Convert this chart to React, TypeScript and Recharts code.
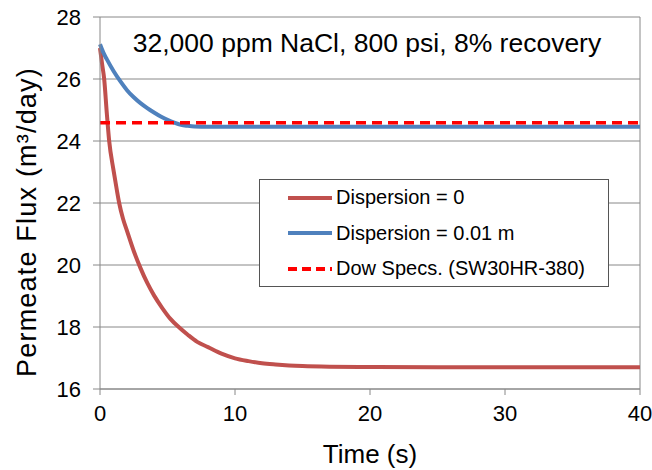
import { LineChart, Line, XAxis, YAxis, CartesianGrid, ReferenceLine } from 'recharts';

// time (s) and permeate flux (m³/day)
const redTime = [0, 0.15, 0.31, 0.5, 0.68, 1.0, 1.25, 1.42, 1.7, 2.0, 2.5, 3.0, 3.5, 4.0, 4.6, 5.2, 5.85, 6.5, 7.2, 8.0, 9.0, 10.0, 11.0, 12.0, 13.0, 14.0, 15.0, 17.0, 20.0, 25.0, 30.0, 40.0];
const redFlux = [27.0, 26.5, 26.0, 24.92, 24.0, 23.06, 22.41, 22.0, 21.5, 21.1, 20.45, 19.9, 19.42, 19.02, 18.62, 18.27, 17.99, 17.75, 17.52, 17.35, 17.14, 16.99, 16.9, 16.83, 16.79, 16.76, 16.74, 16.72, 16.71, 16.7, 16.7, 16.7];

const blueTime = [0, 0.25, 0.5, 1.0, 1.5, 2.0, 2.5, 3.0, 3.5, 4.0, 4.5, 5.0, 5.5, 6.0, 6.5, 7.0, 8.0, 10.0, 20.0, 40.0];
const blueFlux = [27.12, 26.85, 26.64, 26.26, 25.93, 25.64, 25.41, 25.22, 25.06, 24.92, 24.79, 24.68, 24.59, 24.52, 24.49, 24.47, 24.46, 24.46, 24.46, 24.46];

const specTime = [0, 40];
const specFlux = [24.59, 24.59];

const xTicks = [0, 10, 20, 30, 40];
const yTicks = [16, 18, 20, 22, 24, 26, 28];

const toPoints = (ts: number[], ys: number[]) => ts.map((t, i) => ({ t, flux: ys[i] }));

const legendItems = [
  { label: 'Dispersion = 0', color: '#C0504D', dash: undefined },
  { label: 'Dispersion = 0.01 m', color: '#4F81BD', dash: undefined },
  { label: 'Dow Specs. (SW30HR-380)', color: '#FF0000', dash: '9 5' },
];

const font = '"Liberation Sans", Arial, sans-serif';

function YLabel() {
  return (
    <text
      transform="translate(27,222) rotate(-90)"
      textAnchor="middle"
      dominantBaseline="central"
      fill="#000"
      style={{ fontSize: 27, fontFamily: font, letterSpacing: 1.2 }}
    >
      Permeate Flux (m³/day)
    </text>
  );
}

function LegendBox() {
  return (
    <div
      style={{
        position: 'absolute',
        left: 259,
        top: 179,
        width: 350,
        height: 108,
        border: '1.5px solid #555',
        background: '#fff',
        fontFamily: font,
        fontSize: 20,
        color: '#000',
        boxSizing: 'border-box',
      }}
    >
      {legendItems.map((it) => (
        <div key={it.label} style={{ display: 'flex', alignItems: 'center', height: 35.5 }}>
          <svg width={76} height={10} style={{ flex: 'none' }}>
            <line x1={28} y1={5} x2={72} y2={5} stroke={it.color} strokeWidth={4} strokeDasharray={it.dash} />
          </svg>
          <span>{it.label}</span>
        </div>
      ))}
    </div>
  );
}

export default function App() {
  return (
    <div style={{ position: 'absolute', left: 0, top: 0, width: 652, height: 470, background: '#fff' }}>
      <LineChart width={652} height={470} margin={{ top: 17, right: 12, bottom: 0, left: 0 }}>
        <CartesianGrid vertical={false} stroke="#888" />
        <XAxis
          type="number"
          dataKey="t"
          domain={[0, 40]}
          ticks={xTicks}
          height={81}
          stroke="#888"
          tickSize={6}
          tickMargin={10}
          tick={{ fill: '#000', fontSize: 22, fontFamily: font }}
          label={{ value: 'Time (s)', position: 'insideBottom', offset: 7, style: { fill: '#000', fontSize: 26, fontFamily: font } }}
        />
        <YAxis
          type="number"
          domain={[16, 28]}
          ticks={yTicks}
          width={100}
          stroke="#888"
          tickSize={7}
          tickMargin={12}
          tick={{ fill: '#000', fontSize: 22, fontFamily: font }}
          label={<YLabel />}
        />
        <ReferenceLine x={40} stroke="#888" />
        <Line
          data={toPoints(redTime, redFlux)}
          dataKey="flux"
          type="monotone"
          stroke="#C0504D"
          strokeWidth={4}
          dot={false}
          isAnimationActive={false}
        />
        <Line
          data={toPoints(blueTime, blueFlux)}
          dataKey="flux"
          type="monotone"
          stroke="#4F81BD"
          strokeWidth={4}
          dot={false}
          isAnimationActive={false}
        />
        <Line
          data={toPoints(specTime, specFlux)}
          dataKey="flux"
          type="linear"
          stroke="#FF0000"
          strokeWidth={3.5}
          strokeDasharray="10 6"
          dot={false}
          isAnimationActive={false}
        />
      </LineChart>
      <LegendBox />
      <div
        style={{
          position: 'absolute',
          left: 100,
          width: 534,
          top: 28,
          textAlign: 'center',
          fontFamily: font,
          fontSize: 26.5,
          color: '#000',
        }}
      >
        32,000 ppm NaCl, 800 psi, 8% recovery
      </div>
    </div>
  );
}
